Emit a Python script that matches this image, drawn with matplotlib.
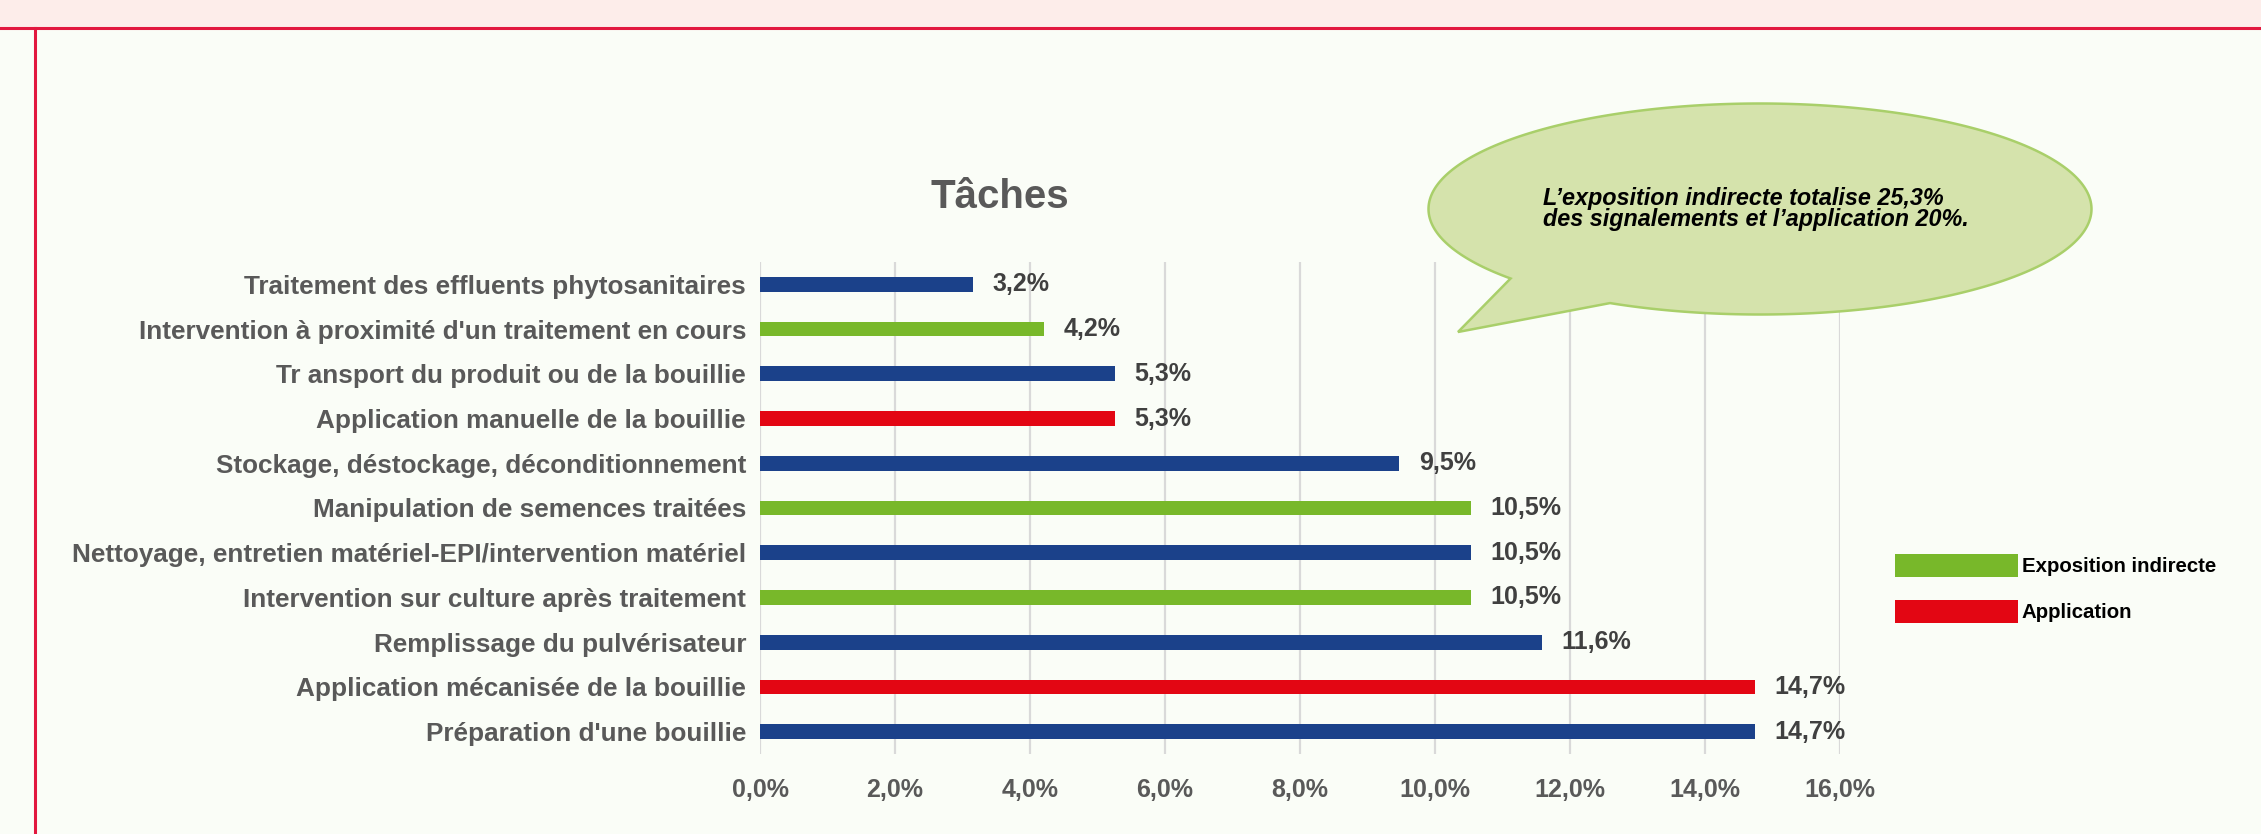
import numpy as np
import matplotlib
matplotlib.use('Agg')
import matplotlib.pyplot as plt
from matplotlib.patches import Patch, Rectangle, PathPatch
from matplotlib.path import Path
from matplotlib.lines import Line2D

plt.rcParams['font.family'] = ['Liberation Sans', 'DejaVu Sans']

# Données (ordre de haut en bas)
taches = [
    "Traitement des effluents phytosanitaires",
    "Intervention à proximité d'un traitement en cours",
    "Tr ansport du produit ou de la bouillie",
    "Application manuelle de la bouillie",
    "Stockage, déstockage, déconditionnement",
    "Manipulation de semences traitées",
    "Nettoyage, entretien matériel-EPI/intervention matériel",
    "Intervention sur culture après traitement",
    "Remplissage du pulvérisateur",
    "Application mécanisée de la bouillie",
    "Préparation d'une bouillie",
]
pourcentages = [3.16, 4.21, 5.26, 5.26, 9.47, 10.53, 10.53, 10.53, 11.58, 14.74, 14.74]
groupes = ["autre", "indirecte", "autre", "application", "autre", "indirecte",
           "autre", "indirecte", "autre", "application", "autre"]
xticks = [0, 2, 4, 6, 8, 10, 12, 14, 16]

COULEURS = {"autre": "#1B418A", "indirecte": "#78B82A", "application": "#E30613"}
GRIS = "#595959"
W, H = 2261, 834

def fx(px):
    return px / W

def fy(py):
    return 1 - py / H

fig = plt.figure(figsize=(W / 100, H / 100), dpi=100)
fig.patch.set_facecolor("#FAFDF7")

# bandeau et filets rouges
fig.patches.append(Rectangle((0, fy(28)), 1, 28 / H, transform=fig.transFigure,
                             facecolor="#FDEDEA", edgecolor="none", zorder=0))
fig.lines.append(Line2D([0, 1], [fy(28), fy(28)], transform=fig.transFigure,
                        color="#E2183F", lw=2.2))
fig.lines.append(Line2D([fx(35), fx(35)], [fy(28), 0], transform=fig.transFigure,
                        color="#E2183F", lw=2.2))

ax = fig.add_axes([fx(760), fy(754), fx(1840) - fx(760), (754 - 262) / H])
ax.set_facecolor("none")

y = np.arange(len(taches))
bars = ax.barh(y, pourcentages, height=0.33,
               color=[COULEURS[g] for g in groupes], zorder=3)
ax.set_ylim(len(taches) - 0.5, -0.5)
ax.set_xlim(0, 16)
ax.set_yticks(y)
ax.set_yticklabels(taches, fontsize=18.8, fontweight="bold", color=GRIS)
ax.set_xticks(xticks)
ax.set_xticklabels([f"{t:.1f}%".replace(".", ",") for t in xticks],
                   fontsize=18, fontweight="bold", color=GRIS)
ax.tick_params(axis="y", length=0, pad=10)
ax.tick_params(axis="x", length=0, pad=17)
ax.grid(axis="x", color="#D9D9D9", lw=1.6, zorder=0)
for s in ax.spines.values():
    s.set_visible(False)

ax.bar_label(bars, labels=[f"{v:.1f}%".replace(".", ",") for v in pourcentages],
             padding=14, fontsize=18, fontweight="bold", color="#404040")

fig.text(fx(1000), fy(197), "Tâches", ha="center", va="center",
         fontsize=29, fontweight="bold", color=GRIS)

# légende
handles = [Patch(facecolor=COULEURS["indirecte"], label="Exposition indirecte"),
           Patch(facecolor=COULEURS["application"], label="Application")]
leg = fig.legend(handles=handles, loc="upper left", bbox_to_anchor=(fx(1895), fy(554)),
                 frameon=False, borderpad=0, borderaxespad=0, handlelength=6.0,
                 handleheight=1.37, handletextpad=0.2, labelspacing=1.1,
                 prop={"size": 14.7, "weight": "bold"})

# bulle
cx, cy, rx, ry = 1760, 209, 331.5, 105.5
a0, a1 = np.radians(243.1), np.radians(221.2 + 360)
t = np.linspace(a0, a1, 300)
px = cx + rx * np.cos(t)
py = cy - ry * np.sin(t)
pts = [(fx(a), fy(b)) for a, b in zip(px, py)]
pts.append((fx(1458), fy(332)))
pts.append(pts[0])
codes = [Path.MOVETO] + [Path.LINETO] * (len(pts) - 2) + [Path.CLOSEPOLY]
bulle = PathPatch(Path(pts, codes), transform=fig.transFigure,
                  facecolor="#D5E3AC", edgecolor="#A9CF6A", lw=1.8, zorder=5)
fig.patches.append(bulle)
fig.text(fx(1543), fy(209), "L’exposition indirecte totalise 25,3%\ndes signalements et l’application 20%.",
         ha="left", va="center", fontsize=16.8, fontweight="bold", fontstyle="italic",
         linespacing=0.85, color="black", zorder=6)

fig.savefig("out.png", dpi=100, facecolor=fig.get_facecolor())
